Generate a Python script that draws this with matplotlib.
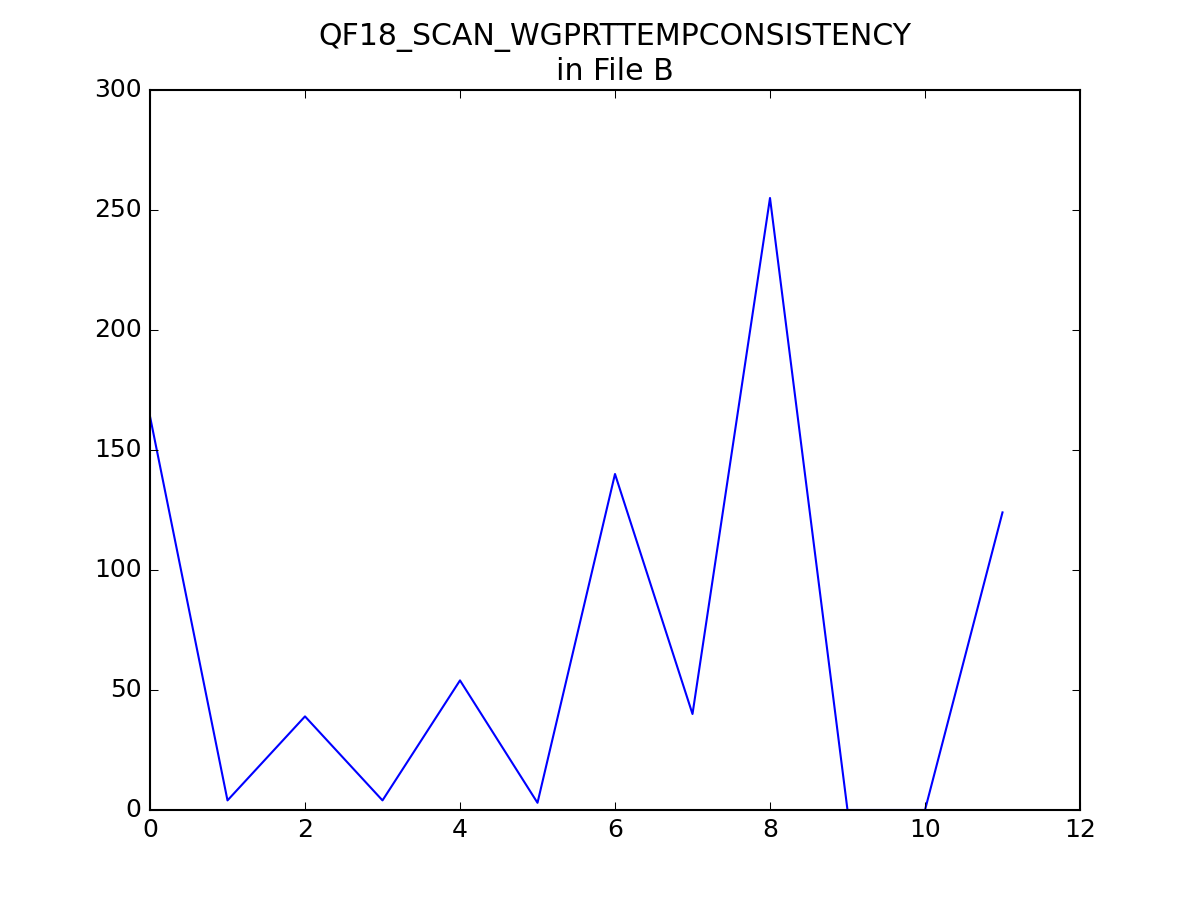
import matplotlib
matplotlib.use("Agg")
import matplotlib.pyplot as plt

plt.style.use("classic")

# values per scan index
x_vals = [0, 1, 2, 3, 4, 5, 6, 7, 8, 9, 10, 11]
y_vals = [164, 4, 39, 4, 54, 3, 140, 40, 255, 0, 0, 124]

fig = plt.figure(figsize=(8, 6), dpi=150)
ax = fig.add_subplot(111)
ax.plot(x_vals, y_vals, color="b")
ax.set_title("QF18_SCAN_WGPRTTEMPCONSISTENCY\nin File B")
ax.set_xlim(0, 12)
ax.set_ylim(0, 300)

fig.savefig("out.png", dpi=150)
